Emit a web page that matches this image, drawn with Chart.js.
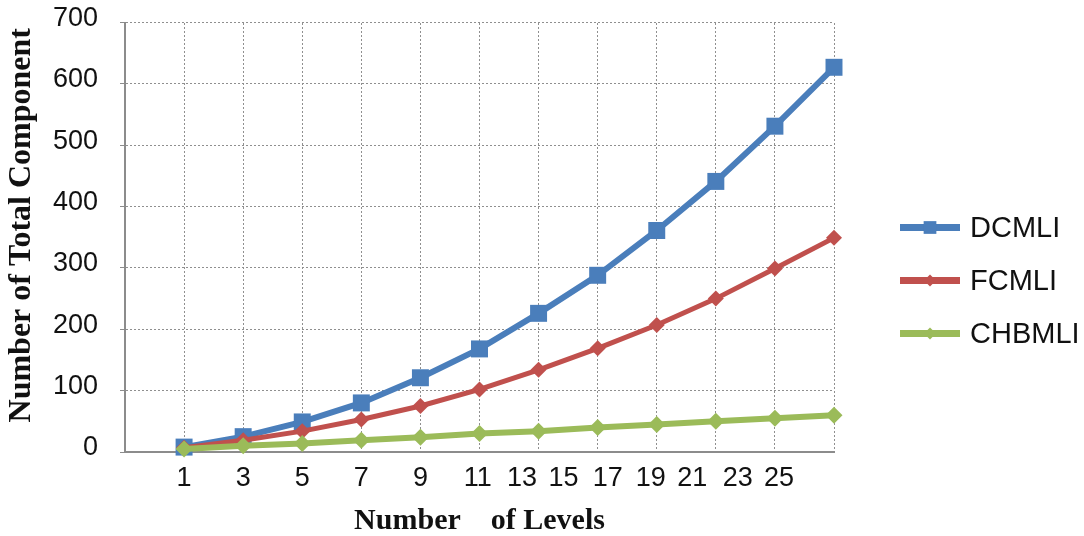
<!DOCTYPE html>
<html>
<head>
<meta charset="utf-8">
<script src="https://cdn.jsdelivr.net/npm/chart.js@4.4.1/dist/chart.umd.min.js"></script>
<style>
  html, body { margin: 0; padding: 0; background: #ffffff; }
  #wrap { width: 1084px; height: 536px; }
</style>
</head>
<body>
<div id="wrap"><canvas id="c" width="1084" height="536"></canvas></div>
<script>
// ---------- data ----------
const seriesNames = ['DCMLI', 'FCMLI', 'CHBMLI'];
const tickLabels = ['1', '3', '5', '7', '9', '11', '13', '15', '17', '19', '21', '23', '25'];
const yTicks = [0, 100, 200, 300, 400, 500, 600, 700];
const dcmli  = [8, 25, 49, 80, 121, 168, 226, 288, 361, 441, 531, 627];
const fcmli  = [7, 19, 34, 53, 75, 102, 134, 169, 207, 250, 299, 349];
const chbmli = [5, 10, 14, 19, 24, 30, 34, 40, 45, 50, 55, 60];

// ---------- layout / style ----------
const SANS = "'Liberation Sans', Arial, sans-serif";
const SERIF = "'Liberation Serif', 'Times New Roman', serif";
const gridColor = '#8f8f8f';
const axisColor = '#8c8c8c';
const textColor = '#111111';
// where the (irregularly spaced) x tick labels sit along the 0..12 slot scale
const tickSlots = [1, 2, 3, 4, 5, 5.97, 6.72, 7.42, 8.17, 8.9, 9.6, 10.37, 11.07];

const colors = ['#4A7EBB', '#C0504D', '#9BBB59'];
const styles = [
  { pointStyle: 'rect', radius: 12, legendRadius: 9, width: 6, order: 2 },
  { pointStyle: 'rectRot', radius: 8, legendRadius: 6, width: 5, order: 1 },
  { pointStyle: 'rectRot', radius: 8.5, legendRadius: 6, width: 6, order: 0 }
];

function makeDataset(i, values) {
  const st = styles[i];
  return {
    label: seriesNames[i],
    data: values.map((v, k) => ({ x: k + 1, y: v })),
    borderColor: colors[i],
    backgroundColor: colors[i],
    pointBackgroundColor: colors[i],
    pointBorderColor: colors[i],
    pointBorderWidth: 0,
    borderWidth: st.width,
    pointStyle: st.pointStyle,
    pointRadius: st.radius,
    tension: 0,
    order: st.order,
    clip: false,
    xAxisID: 'x',
    yAxisID: 'y'
  };
}

const legendPlugin = {
  id: 'sideLegend',
  afterDraw(chart) {
    const { ctx, chartArea } = chart;
    const x0 = chartArea.right + 66;
    const lineLen = 60;
    const y0 = chartArea.top + 205;
    const step = 53;
    ctx.save();
    seriesNames.forEach((name, i) => {
      const y = y0 + i * step;
      ctx.strokeStyle = colors[i];
      ctx.lineWidth = 7;
      ctx.beginPath();
      ctx.moveTo(x0, y);
      ctx.lineTo(x0 + lineLen, y);
      ctx.stroke();
      ctx.fillStyle = colors[i];
      Chart.helpers.drawPoint(ctx, {
        pointStyle: styles[i].pointStyle,
        rotation: 0,
        radius: styles[i].legendRadius,
        borderWidth: 0
      }, x0 + lineLen / 2, y);
      ctx.fillStyle = textColor;
      ctx.font = '29px ' + SANS;
      ctx.textBaseline = 'middle';
      ctx.textAlign = 'left';
      ctx.fillText(name, x0 + lineLen + 10, y + 1);
    });
    ctx.restore();
  }
};

new Chart(document.getElementById('c').getContext('2d'), {
  type: 'line',
  data: {
    datasets: [makeDataset(0, dcmli), makeDataset(1, fcmli), makeDataset(2, chbmli)]
  },
  options: {
    responsive: false,
    animation: false,
    devicePixelRatio: 1,
    layout: { padding: { left: 0, right: 250, top: 22.5, bottom: 0 } },
    plugins: { legend: { display: false }, tooltip: { enabled: false }, title: { display: false } },
    scales: {
      x: {
        type: 'linear',
        position: 'bottom',
        min: 0,
        max: 12,
        afterBuildTicks: (s) => { s.ticks = tickSlots.map(v => ({ value: v })); },
        afterFit: (s) => { s.height = 84; },
        ticks: {
          autoSkip: false,
          maxRotation: 0,
          minRotation: 0,
          padding: 10,
          color: textColor,
          font: { family: SANS, size: 27 },
          callback: (v, i) => tickLabels[i]
        },
        grid: { display: false, drawTicks: false },
        border: { display: true, color: axisColor, width: 2 },
        title: {
          display: true,
          text: 'Number    of Levels',
          color: textColor,
          font: { family: SERIF, size: 30, weight: 'bold', lineHeight: 1 },
          padding: { top: 0, bottom: 0 }
        }
      },
      xg: {
        type: 'linear',
        position: 'top',
        min: 0,
        max: 12,
        afterFit: (s) => { s.height = 0; },
        ticks: { display: false, stepSize: 1 },
        grid: { display: true, color: gridColor, lineWidth: 1, drawTicks: false },
        border: { display: false, dash: [2, 2] }
      },
      y: {
        type: 'linear',
        position: 'left',
        min: 0,
        max: 700,
        afterBuildTicks: (s) => { s.ticks = yTicks.map(v => ({ value: v })); },
        afterFit: (s) => { s.width = 125; s.paddingTop = 0; s.paddingBottom = 0; },
        ticks: {
          padding: 22,
          labelOffset: -4,
          color: textColor,
          font: { family: SANS, size: 27 },
          callback: (v) => String(v)
        },
        grid: { color: gridColor, lineWidth: 1, drawTicks: true, tickLength: 5, tickColor: axisColor },
        border: { display: true, color: axisColor, width: 2, dash: [2, 2] },
        title: {
          display: true,
          text: '   Number of Total Component',
          color: textColor,
          font: { family: SERIF, size: 32, weight: 'bold', lineHeight: 1.2 },
          padding: { top: 3, bottom: 0 }
        }
      }
    }
  },
  plugins: [legendPlugin]
});
</script>
</body>
</html>
